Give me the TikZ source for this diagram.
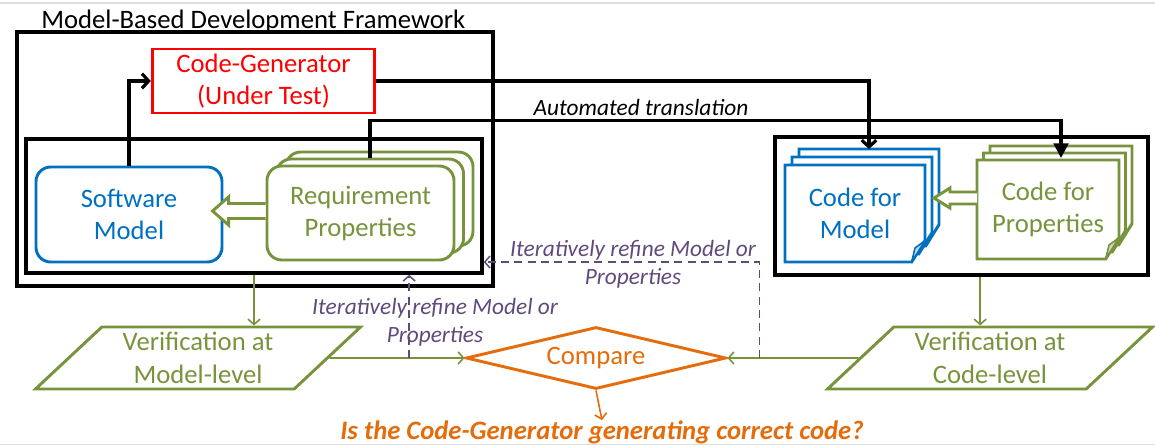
\documentclass[tikz,border=0pt]{standalone}
\usepackage{fontspec}
\setmainfont{Carlito}
\usetikzlibrary{arrows.meta,shapes.geometric,shadows,calc}

\definecolor{cgred}{RGB}{255,0,0}
\definecolor{mdblue}{RGB}{0,112,192}
\definecolor{rqgreen}{RGB}{119,147,60}
\definecolor{cmporange}{RGB}{228,108,10}
\definecolor{itpurple}{RGB}{96,74,123}
\definecolor{shotgray}{RGB}{222,222,222}

\pgfdeclarelayer{bg}
\pgfsetlayers{bg,main}

\tikzset{
  lbl/.style={font=\fontsize{20}{24}\selectfont, align=center},
  note/.style={font=\fontsize{17.5}{21}\selectfont\itshape, align=center},
  frame/.style={draw, line width=2.6pt, inner sep=0pt},
  shadowframe/.style={frame, fill=white, drop shadow={opacity=.45, shadow xshift=1.2pt, shadow yshift=-1.2pt}},
  cgbox/.style={lbl, draw=cgred, text=cgred, line width=2.1pt, minimum width=167pt, minimum height=48pt},
  modelnode/.style={lbl, draw=mdblue, text=mdblue, line width=2.2pt, rounded corners=11pt, fill=white, minimum width=139.5pt, minimum height=71.25pt},
  reqnode/.style={lbl, draw=rqgreen, text=rqgreen, line width=2.2pt, rounded corners=11pt, fill=white, minimum width=140.25pt, minimum height=70.5pt},
  pagenode/.style={lbl, inner sep=0pt, outer sep=0pt},
  cmpage/.style={pagenode, text=mdblue, minimum width=105pt, minimum height=72.75pt},
  cppage/.style={pagenode, text=rqgreen, minimum width=106.5pt, minimum height=74.25pt},
  pageline/.style={line width=2.2pt, fill=white},
  flap/.style={line width=1.2pt, fill=gray!35, line join=round},
  verifnode/.style={font=\fontsize{20}{25}\selectfont, align=center, trapezium, trapezium left angle=45, trapezium right angle=135, trapezium stretches, draw=rqgreen, text=rqgreen, line width=2.2pt, minimum width=244pt, minimum height=46.5pt, inner sep=0pt},
  cmpnode/.style={lbl, diamond, aspect=4, draw=cmporange, text=cmporange, line width=2.2pt, minimum width=195pt, minimum height=46.5pt, inner sep=0pt},
  blockarrow/.style={draw=rqgreen, line width=2.2pt, fill=white},
  conn/.style={line width=2.4pt, -{Straight Barb[length=5pt,width=11pt]}},
  connfilled/.style={line width=2.4pt, -{Triangle[length=11pt,width=11pt]}},
  thinarrow/.style={draw=rqgreen, line width=1.2pt, -{Straight Barb[length=4pt,width=9pt]}},
  orangearrow/.style={draw=cmporange, line width=1.2pt, -{Straight Barb[length=4pt,width=9pt]}},
  refine/.style={draw=itpurple, line width=1.1pt, dash pattern=on 6pt off 4pt, -{Straight Barb[length=4pt,width=9pt]}},
  shotline/.style={draw=shotgray, line width=1pt}
}

% page outline with a dog-ear, drawn under the page text
\newcommand\docpage[2]{%
  \begin{pgfonlayer}{bg}
    \draw[pageline, draw=#2] (#1.north west) -- (#1.north east) -- ([yshift=16pt]#1.south east)
      -- ([xshift=-10pt]#1.south east) -- (#1.south west) -- cycle;
  \end{pgfonlayer}}

\begin{document}
\begin{tikzpicture}[x=0.75pt,y=-0.75pt]
  \useasboundingbox (0,0) rectangle (1155,446);
  \draw[shotline] (0,3) -- (1155,3);
  \draw[shotline] (0,444.5) -- (1155,444.5);

  % model-based development framework
  \node[frame, minimum width=357pt, minimum height=190.5pt] (mbd) at (255,159) {};
  \node[lbl, anchor=base west, inner sep=0pt] (mbdtitle) at (41,28) {Model-Based Development Framework};
  \node[cgbox] (codegen) at (263.5,81) {Code-Generator\\(Under Test)};
  \node[shadowframe, minimum width=342pt, minimum height=100.5pt] (modelbox) at (254,206) {};
  \node[modelnode] (swmodel) at (129,214.5) {Software\\Model};
  \coordinate (rqc) at (360.5,213);
  \foreach \k in {2,1}
    \node[reqnode] (rq\k) at ($(rqc)+(\k*9.5,-\k*7)$) {};
  \node[reqnode] (req) at (rqc) {Requirement\\Properties};

  % generated code
  \begin{pgfonlayer}{bg}
    \node[shadowframe, minimum width=279.75pt, minimum height=103.5pt] (codebox) at (961.5,206) {};
  \end{pgfonlayer}
  \coordinate (cmc) at (855,213.5);
  \foreach \k in {2,1} {
    \node[cmpage] (cm\k) at ($(cmc)+(\k*7,-\k*8)$) {};
    \docpage{cm\k}{mdblue}
  }
  \node[cmpage] (cm) at (cmc) {Code for\\Model};
  \docpage{cm}{mdblue}
  \draw[flap, draw=mdblue] ([xshift=-10pt]cm.south east) -- ([yshift=16pt]cm.south east) -- ([shift={(-7.5pt,10.5pt)}]cm.south east) -- cycle;
  \coordinate (cpc) at (1048,209.5);
  \foreach \k in {2,1} {
    \node[cppage] (cp\k) at ($(cpc)+(\k*6.5,-\k*7)$) {};
    \docpage{cp\k}{rqgreen}
  }
  \node[cppage] (cp) at (cpc) {Code for\\Properties};
  \docpage{cp}{rqgreen}
  \draw[flap, draw=rqgreen] ([xshift=-10pt]cp.south east) -- ([yshift=16pt]cp.south east) -- ([shift={(-7.5pt,10.5pt)}]cp.south east) -- cycle;

  % verification and comparison
  \node[verifnode] (verifmodel) at (198,358) {Verification at\\Model-level};
  \node[verifnode] (verifcode) at (990,358) {Verification at\\Code-level};
  \node[cmpnode] (compare) at (596,358) {Compare};
  \node[inner sep=0pt, text=cmporange, font=\fontsize{20}{22}\selectfont\bfseries\itshape] (question) at (602,432) {Is the Code-Generator generating correct code?};

  % connectors
  \draw[blockarrow] (req.west) ++(0,-9.5) -- ++(-37,0) -- ++(0,-6.5) -- ++(-16,14) -- ++(16,14) -- ++(0,-6.5) -- ++(37,0);
  \draw[blockarrow] (cp.west) ++(0,-17.5) -- ++(-27,0) -- ++(0,-4) -- ++(-16,10) -- ++(16,10) -- ++(0,-4) -- ++(27,0);
  \draw[conn] (swmodel.north) |- (codegen.west);
  \draw[conn] (codegen.east) -| (cm2.north);
  \draw[connfilled] (rq1.north) -- ++(0,-37) -| ([yshift=-9pt]cp2.north);
  \node[note] (autotr) at (641,107) {Automated translation};

  \draw[thinarrow] (modelbox.south) -- (modelbox.south |- verifmodel.north);
  \coordinate (cbdrop) at ([xshift=14pt]codebox.south);
  \draw[thinarrow] (cbdrop) -- (cbdrop |- verifcode.north);
  \draw[thinarrow] (verifmodel.east) -- (compare.west);
  \draw[thinarrow] (verifcode.west) -- (compare.east);
  \draw[orangearrow] (compare.south) -- (question.north);

  \coordinate (refL) at ($(verifmodel.east)!0.59!(compare.west)$);
  \coordinate (refR) at ($(compare.east)!0.245!(verifcode.west)$);
  \draw[refine] (refL) -- (refL |- modelbox.south);
  \draw[refine] (refR) |- ([yshift=-42pt]modelbox.east);
  \node[note, text=itpurple] (refLnote) at (435,322) {Iteratively refine Model or\\Properties};
  \node[note, text=itpurple] (refRnote) at (633,264) {Iteratively refine Model or\\Properties};
\end{tikzpicture}
\end{document}
